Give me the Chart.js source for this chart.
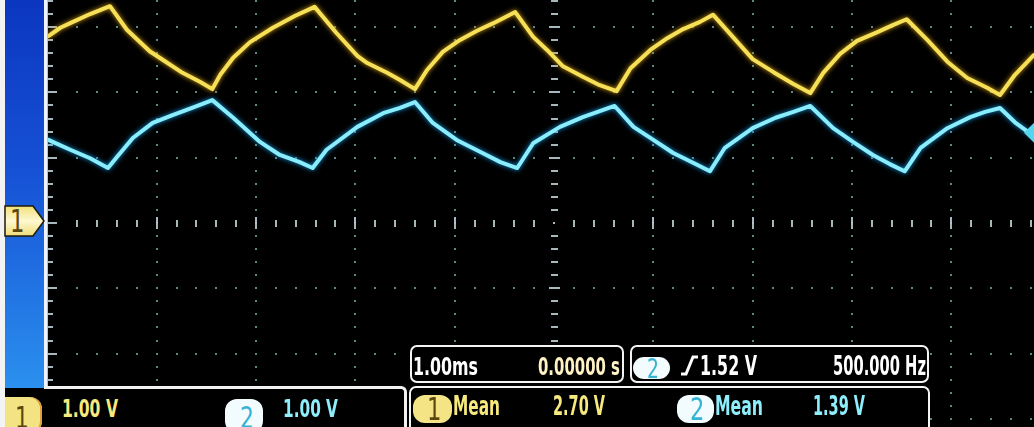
<!DOCTYPE html>
<html>
<head>
<meta charset="utf-8">
<script src="https://cdn.jsdelivr.net/npm/chart.js@4.4.1/dist/chart.umd.min.js"></script>
<style>
  html, body { margin: 0; padding: 0; background: #000; overflow: hidden; }
  #scope { position: relative; width: 1034px; height: 427px; overflow: hidden; background: #000; }
  #scope canvas { position: absolute; left: 0; top: 0; }
  .abs { position: absolute; }
  .box { position: absolute; background: #000; border: 2.5px solid #f4f4f4; border-radius: 7px; box-sizing: border-box; }
  .badge { position: absolute; box-sizing: border-box; }
  .txt { position: absolute; white-space: nowrap; font-family: 'DejaVu Sans Condensed', 'DejaVu Sans', sans-serif;
         font-weight: bold; transform-origin: 0 0; line-height: normal; }
</style>
</head>
<body>
<div id="scope">
  <canvas id="c" width="1034" height="427"></canvas>

  <!-- left side panel -->
  <div class="abs" style="left:0;top:0;width:5px;height:427px;background:#f3f3f3"></div>
  <div class="abs" style="left:5px;top:0;width:40px;height:388px;background:linear-gradient(#0b36c0,#1652d6 45%,#2b90ee)"></div>
  <div class="abs" style="left:44px;top:0;width:3px;height:389px;background:#eef4ff"></div>
  <div class="abs" style="left:47px;top:0;width:1px;height:387px;background:#e8b89a"></div>

  <!-- channel 1 ground marker -->
  <svg class="abs" style="left:0;top:204px" width="48" height="36">
    <defs>
      <linearGradient id="mk" x1="0" y1="0" x2="0" y2="1">
        <stop offset="0" stop-color="#f2e07a"/>
        <stop offset="0.5" stop-color="#fdf8d0"/>
        <stop offset="1" stop-color="#efdc78"/>
      </linearGradient>
    </defs>
    <polygon points="5,2 33,2 44,17 33,32 5,32" fill="url(#mk)" stroke="#1e1a08" stroke-width="1.5"/>
  </svg>

  <!-- bottom channel bar -->
  <div class="abs" style="left:5px;top:388px;width:402px;height:50px;background:#000"></div>
  <div class="abs" style="left:44px;top:386px;width:363px;height:50px;border-top:3px solid #f2f2f2;border-right:3px solid #f2f2f2;border-top-right-radius:6px;box-sizing:border-box"></div>
  <div class="badge" style="left:5px;top:397px;width:37px;height:36px;background:#f4e382;border-radius:0 12px 12px 0;box-shadow:inset -2px 0 0 #e0a040"></div>
  <div class="badge" style="left:225px;top:399px;width:38px;height:34px;background:#f2fcff;border-radius:12px"></div>

  <!-- horizontal / trigger boxes -->
  <div class="box" style="left:410px;top:345px;width:214px;height:38px"></div>
  <div class="box" style="left:630px;top:345px;width:299px;height:38px"></div>
  <div class="badge" style="left:633px;top:357px;width:37px;height:22px;background:#f2fcff;border-radius:11px"></div>
  <svg class="abs" style="left:678px;top:352px" width="24" height="28">
    <polyline points="3,22 8,22 15,5 20,5" fill="none" stroke="#ffffff" stroke-width="3"/>
  </svg>

  <!-- measurement box -->
  <div class="box" style="left:409px;top:386px;width:521px;height:50px"></div>
  <div class="badge" style="left:413px;top:395px;width:39px;height:28px;background:#f5e486;border-radius:12px"></div>
  <div class="badge" style="left:677px;top:395px;width:37px;height:28px;background:#f2fcff;border-radius:12px"></div>
</div>

<script>
// ---- instrument settings (readouts) ----
const ch1VoltsPerDiv = 1.00;
const ch2VoltsPerDiv = 1.00;
const timebaseMsPerDiv = 1.00;
const delaySeconds = 0.0;
const triggerLevelV = 1.52;
const frequencyHz = 500.0;
const ch1MeanV = 2.70;
const ch2MeanV = 1.39;

// ---- visible window (ms, volts) ----
const timeRangeMs = [-5.094, 4.832];
const ch1RangeV = [-3.124, 3.415];
const ch2RangeV = [-2.986, 3.553];

// ---- channel 1 (yellow) samples ----
const ch1TimeMs = [-5.09, -4.97, -4.87, -4.67, -4.47, -4.30, -4.07, -3.94, -3.74, -3.56, -3.44,
  -3.36, -3.23, -3.06, -2.83, -2.61, -2.41, -2.19, -1.98, -1.88, -1.68, -1.55, -1.40,
  -1.28, -1.12, -0.95, -0.78, -0.61, -0.39, -0.21, -0.07, 0.09, 0.29, 0.46, 0.63,
  0.77, 0.97, 1.14, 1.30, 1.47, 1.60, 1.80, 2.00, 2.21, 2.41, 2.58,
  2.71, 2.88, 3.05, 3.25, 3.41, 3.55, 3.76, 3.96, 4.16, 4.36, 4.49, 4.64, 4.83];
const ch1Volts = [2.86, 2.99, 3.06, 3.20, 3.32, 2.96, 2.63, 2.50, 2.30, 2.16, 2.05,
  2.27, 2.53, 2.77, 2.99, 3.17, 3.31, 2.91, 2.56, 2.45, 2.30, 2.19, 2.05,
  2.34, 2.62, 2.80, 2.94, 3.06, 3.23, 2.85, 2.65, 2.40, 2.24, 2.11, 2.02,
  2.37, 2.65, 2.83, 2.97, 3.08, 3.19, 2.85, 2.51, 2.31, 2.13, 1.99,
  2.30, 2.59, 2.79, 2.92, 3.03, 3.12, 2.80, 2.47, 2.22, 2.07, 1.96, 2.27, 2.57];

// ---- channel 2 (cyan) samples ----
const ch2TimeMs = [-5.09, -4.87, -4.67, -4.49, -4.40, -4.24, -4.04, -3.84, -3.63, -3.44,
  -3.23, -2.96, -2.76, -2.56, -2.43, -2.29, -1.98, -1.72, -1.55, -1.40,
  -1.22, -0.98, -0.72, -0.54, -0.37, -0.21, 0.06, 0.29, 0.46, 0.61,
  0.80, 1.00, 1.20, 1.40, 1.57, 1.72, 2.00, 2.23, 2.41, 2.58,
  2.81, 3.01, 3.21, 3.38, 3.53, 3.69, 3.96, 4.19, 4.34, 4.49, 4.64, 4.83];
const ch2Volts = [1.41, 1.26, 1.13, 0.98, 1.15, 1.44, 1.67, 1.79, 1.91, 2.02,
  1.75, 1.38, 1.18, 1.07, 0.98, 1.26, 1.61, 1.82, 1.90, 1.99,
  1.67, 1.41, 1.21, 1.07, 0.98, 1.36, 1.61, 1.76, 1.85, 1.93,
  1.61, 1.41, 1.21, 1.06, 0.93, 1.29, 1.59, 1.75, 1.84, 1.93,
  1.59, 1.38, 1.18, 1.04, 0.93, 1.29, 1.59, 1.76, 1.84, 1.90, 1.68, 1.47];

const pts = (ts, vs) => ts.map((t, i) => ({ x: t, y: vs[i] }));

// graticule: dotted divisions, tick-marked centre axes and left edge
const graticule = {
  id: 'graticule',
  beforeDatasetsDraw(chart) {
    const { ctx, chartArea: a, scales: { x, y } } = chart;
    const dot = 'rgba(105,160,162,0.85)';
    const tick = 'rgba(185,204,210,0.9)';
    ctx.save();
    const colDiv = timebaseMsPerDiv, rowDiv = ch1VoltsPerDiv;
    const kMin = Math.ceil(x.min / colDiv), kMax = Math.floor(x.max / colDiv);
    const jMin = Math.ceil(y.min / rowDiv), jMax = Math.floor(y.max / rowDiv);
    const mMin = Math.ceil(y.min / rowDiv * 5), mMax = Math.floor(y.max / rowDiv * 5);
    const nMin = Math.ceil(x.min / colDiv * 5), nMax = Math.floor(x.max / colDiv * 5);
    // columns
    for (let k = kMin; k <= kMax; k++) {
      if (k <= -5) continue;
      const px = Math.round(x.getPixelForValue(k * colDiv));
      for (let m = mMin; m <= mMax; m++) {
        const py = Math.round(y.getPixelForValue(m / 5 * rowDiv));
        if (k === 0) {
          if (m === 0) { ctx.fillStyle = tick; ctx.fillRect(px - 1, py - 1, 2, 2); continue; }
          const w = (m % 5 === 0) ? 11 : 7;
          ctx.fillStyle = tick; ctx.fillRect(px - Math.floor(w / 2), py - 1, w, 2);
        } else {
          ctx.fillStyle = dot; ctx.fillRect(px - 1, py - 1, 2, 2);
        }
      }
    }
    // rows
    for (let j = jMin; j <= jMax; j++) {
      const py = Math.round(y.getPixelForValue(j * rowDiv));
      for (let n = nMin; n <= nMax; n++) {
        if (n <= -25) continue;
        if (n === 0) continue;
        const px = Math.round(x.getPixelForValue(n / 5 * colDiv));
        if (j === 0) {
          const h = (n % 5 === 0) ? 12 : 7;
          ctx.fillStyle = tick; ctx.fillRect(px - 1, py - Math.floor(h / 2), 2, h);
        } else if (n % 5 !== 0) {
          ctx.fillStyle = dot; ctx.fillRect(px - 1, py - 1, 2, 2);
        }
      }
    }
    // left edge ticks
    for (let m = mMin; m <= mMax; m++) {
      const py = Math.round(y.getPixelForValue(m / 5 * rowDiv));
      const w = (m % 5 === 0) ? 9 : 5;
      ctx.fillStyle = tick; ctx.fillRect(a.left, py - 1, w, 2);
    }
    ctx.restore();
  },
  beforeDatasetDraw(chart, args) {
    const ctx = chart.ctx;
    ctx.save();
    ctx.shadowColor = args.index === 0 ? 'rgba(215,160,20,1)' : 'rgba(20,150,225,1)';
    ctx.shadowBlur = 5;
  },
  afterDatasetDraw(chart) {
    chart.ctx.restore();
  },
  afterDatasetsDraw(chart) {
    // trigger level marker for channel 2 on the right edge
    const { ctx, chartArea: a, scales: { y2 } } = chart;
    const py = y2.getPixelForValue(triggerLevelV);
    ctx.save();
    ctx.fillStyle = '#56d6ec';
    ctx.beginPath();
    ctx.moveTo(a.right - 10, py);
    ctx.lineTo(a.right, py - 10);
    ctx.lineTo(a.right, py + 10);
    ctx.closePath();
    ctx.fill();
    ctx.restore();
  }
};

new Chart(document.getElementById('c'), {
  type: 'line',
  data: {
    datasets: [
      { label: '1', data: pts(ch1TimeMs, ch1Volts), yAxisID: 'y',
        borderColor: '#f5e058', borderWidth: 4, pointRadius: 0, tension: 0,
        borderJoinStyle: 'round', borderCapStyle: 'round' },
      { label: '2', data: pts(ch2TimeMs, ch2Volts), yAxisID: 'y2',
        borderColor: '#8aedfb', borderWidth: 4, pointRadius: 0, tension: 0,
        borderJoinStyle: 'round', borderCapStyle: 'round' }
    ]
  },
  options: {
    responsive: false,
    animation: false,
    devicePixelRatio: 1,
    layout: { padding: { left: 48, right: 0, top: 0, bottom: 0 } },
    plugins: { legend: { display: false }, tooltip: { enabled: false } },
    scales: {
      x: { type: 'linear', min: timeRangeMs[0], max: timeRangeMs[1], display: false },
      y: { min: ch1RangeV[0], max: ch1RangeV[1], display: false },
      y2: { min: ch2RangeV[0], max: ch2RangeV[1], display: false }
    }
  },
  plugins: [graticule]
});

// ---- readout text ----
const fmtV = v => v.toFixed(2) + ' V';
const yellow = '#f7e97e', cyan = '#8eeefb', white = '#ffffff', ink = '#5a480c', teal = '#36b2d4';
const labels = [
  { text: '1', x: 10, base: 232, cap: 23, color: ink, weight: 'normal', k: 0.8 },
  { text: fmtV(ch1VoltsPerDiv), x: 62, w: 56, base: 417, cap: 18.5, color: yellow },
  { text: '1', x: 15, base: 428, cap: 22, color: ink, weight: 'normal', k: 0.8 },
  { text: '2', x: 240, base: 428, cap: 22, color: teal, weight: 'normal', k: 0.8 },
  { text: fmtV(ch2VoltsPerDiv), x: 283, w: 55, base: 417, cap: 18.5, color: cyan },
  { text: timebaseMsPerDiv.toFixed(2) + 'ms', x: 413, w: 65, base: 375, cap: 18, color: white },
  { text: delaySeconds.toFixed(5) + ' s', x: 538, w: 82, base: 375, cap: 18, color: '#fff2c4' },
  { text: '2', x: 647, base: 378, cap: 19, color: teal, weight: 'normal', k: 0.8 },
  { text: fmtV(triggerLevelV), x: 700, w: 57, base: 375, cap: 20, color: white },
  { text: frequencyHz.toFixed(3) + ' Hz', x: 833, w: 93, base: 375, cap: 20, color: white },
  { text: '1', x: 427, base: 420, cap: 23, color: ink, weight: 'normal', k: 0.8 },
  { text: 'Mean', x: 453, w: 47, base: 415, cap: 20, color: yellow },
  { text: fmtV(ch1MeanV), x: 553, w: 52, base: 415, cap: 20, color: yellow },
  { text: '2', x: 690, base: 420, cap: 23, color: teal, weight: 'normal', k: 0.8 },
  { text: 'Mean', x: 715, w: 48, base: 415, cap: 20, color: cyan },
  { text: fmtV(ch2MeanV), x: 813, w: 52, base: 415, cap: 20, color: cyan }
];
const scope = document.getElementById('scope');
labels.forEach(t => {
  const s = document.createElement('span');
  s.className = 'txt';
  s.style.fontSize = (t.cap / 0.729).toFixed(2) + 'px';
  s.style.color = t.color;
  if (t.weight) s.style.fontWeight = t.weight;
  s.textContent = t.text;
  const m = document.createElement('i');
  m.style.cssText = 'display:inline-block;width:0;height:0;vertical-align:baseline';
  s.appendChild(m);
  s.style.left = t.x + 'px';
  s.style.top = '0px';
  scope.appendChild(s);
  s.style.top = (t.base - m.offsetTop) + 'px';
  const natural = s.getBoundingClientRect().width;
  const k = t.w ? t.w / natural : (t.k || 1);
  s.style.transform = 'scaleX(' + k.toFixed(3) + ')';
});
</script>
</body>
</html>
